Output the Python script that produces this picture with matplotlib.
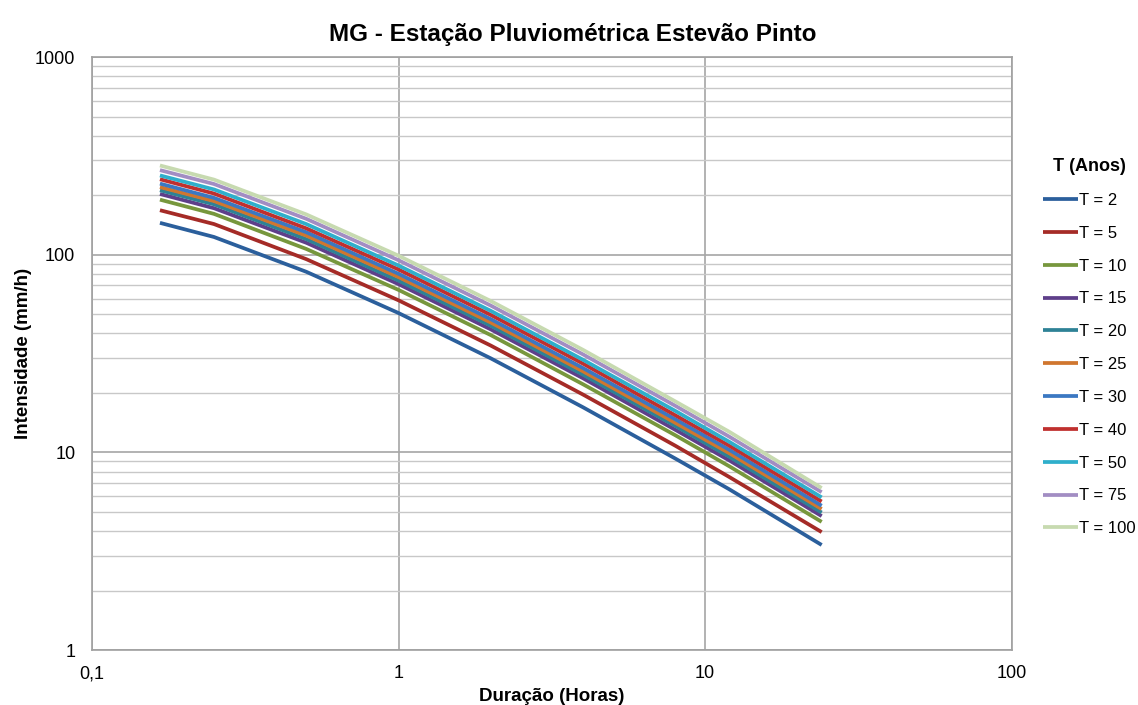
import matplotlib
matplotlib.use("Agg")
import matplotlib.pyplot as plt
from matplotlib.ticker import FixedLocator, FixedFormatter, LogLocator, NullFormatter

plt.rcParams['font.family'] = ['Liberation Sans', 'DejaVu Sans']

# duração (horas)
duracao = [1/6, 0.25, 0.5, 1, 2, 4, 8, 12, 24]

# intensidades (mm/h)
i_t2 = [145, 123, 82, 50.7, 29.9, 16.9, 9.3, 6.5, 3.4]
i_t5 = [168, 143, 95, 58.8, 34.7, 19.6, 10.8, 7.5, 3.95]
i_t10 = [190, 161, 107, 66.4, 39.2, 22.1, 12.2, 8.5, 4.45]
i_t15 = [203, 172, 115, 71.0, 41.9, 23.7, 13.0, 9.1, 4.76]
i_t20 = [212, 180, 120, 74.0, 43.7, 24.7, 13.6, 9.5, 4.96]
i_t25 = [220, 187, 125, 77.1, 45.4, 25.7, 14.1, 9.9, 5.17]
i_t30 = [229, 194, 130, 80.1, 47.2, 26.7, 14.7, 10.3, 5.37]
i_t40 = [241, 204, 136, 84.2, 49.6, 28.1, 15.4, 10.8, 5.64]
i_t50 = [252, 214, 143, 88.2, 52.0, 29.4, 16.2, 11.3, 5.92]
i_t75 = [268, 228, 152, 93.8, 55.3, 31.3, 17.2, 12.0, 6.29]
i_t100 = [283, 240, 160, 98.9, 58.3, 33.0, 18.1, 12.7, 6.6]

rotulos = ['T = 2', 'T = 5', 'T = 10', 'T = 15', 'T = 20', 'T = 25',
           'T = 30', 'T = 40', 'T = 50', 'T = 75', 'T = 100']
series = [i_t2, i_t5, i_t10, i_t15, i_t20, i_t25, i_t30, i_t40, i_t50, i_t75, i_t100]
cores = ['#2B5F9C', '#A52B27', '#77973D', '#5E3F8A', '#2E8296', '#D0762F',
         '#3B78C2', '#C0302E', '#2FAFCB', '#A28DC3', '#C7DAB0']

fig = plt.figure(figsize=(11.38, 7.05), dpi=100)
ax = fig.add_axes([0.0808, 0.078, 0.8082, 0.841])

for y, lab, c in zip(series, rotulos, cores):
    ax.plot(duracao, y, color=c, lw=2.7, label=lab, solid_capstyle='butt')

ax.set_xscale('log')
ax.set_yscale('log')
ax.set_xlim(0.1, 100)
ax.set_ylim(1, 1000)

ax.xaxis.set_major_locator(FixedLocator([0.1, 1, 10, 100]))
ax.xaxis.set_major_formatter(FixedFormatter(['0,1', '1', '10', '100']))
ax.xaxis.set_minor_formatter(NullFormatter())
ax.xaxis.set_minor_locator(FixedLocator([]))
ax.yaxis.set_major_locator(FixedLocator([1, 10, 100, 1000]))
ax.yaxis.set_major_formatter(FixedFormatter(['1', '10', '100', '1000']))
ax.yaxis.set_minor_locator(LogLocator(base=10, subs=range(2, 10)))
ax.yaxis.set_minor_formatter(NullFormatter())

ax.grid(True, which='major', axis='both', color='#A6A6A6', lw=1.2)
ax.grid(True, which='minor', axis='y', color='#C8C8C8', lw=1.0)
ax.set_axisbelow(True)
for s in ax.spines.values():
    s.set_color('#A0A0A0')
    s.set_linewidth(1.2)
ax.tick_params(which='both', length=0, labelsize=13)
ax.tick_params(axis='x', pad=11)
ax.tick_params(axis='y', pad=12)

fig.suptitle('MG - Estação Pluviométrica Estevão Pinto', fontsize=17.5, fontweight='bold',
             x=0.503, y=0.968)
ax.set_xlabel('Duração (Horas)', fontsize=13.5, fontweight='bold', labelpad=4)
ax.set_ylabel('Intensidade (mm/h)', fontsize=13.5, fontweight='bold', labelpad=2)

leg = fig.legend(loc='upper left', bbox_to_anchor=(0.903, 0.797), frameon=False,
                 title='T (Anos)', fontsize=12, handlelength=2.1, handletextpad=0.1,
                 labelspacing=1.07)
leg.get_title().set_fontweight('bold')
leg.get_title().set_fontsize(13)

fig.savefig('out.png', dpi=100)
